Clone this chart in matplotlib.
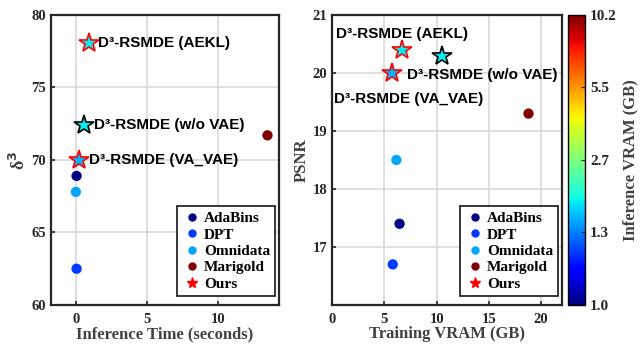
import matplotlib
matplotlib.use("Agg")
import matplotlib.pyplot as plt
import numpy as np
from matplotlib.lines import Line2D
from matplotlib import cm, colors

# ---- data ----
methods = ["AdaBins", "DPT", "Omnidata", "Marigold"]
inf_time = [0.05, 0.05, 0.0, 13.5]
delta3 = [68.9, 62.5, 67.8, 71.7]
train_vram = [6.45, 5.8, 6.15, 18.8]
psnr = [17.4, 16.7, 18.5, 19.3]
inf_vram = [1.0, 1.22, 1.5, 10.2]

ours = ["D³-RSMDE (AEKL)", "D³-RSMDE (w/o VAE)", "D³-RSMDE (VA_VAE)"]
ours_time = [0.9, 0.6, 0.25]
ours_delta3 = [78.1, 72.4, 70.0]
ours_train_vram = [6.7, 10.5, 5.7]
ours_psnr = [20.4, 20.3, 20.0]
ours_inf_vram = [1.9, 1.9, 1.6]
ours_edge = ["red", "black", "red"]

cbar_ticks = [1.0, 1.3, 2.7, 5.5, 10.2]
cbar_pos = [0.0, 0.25, 0.5, 0.75, 1.0]

serif = "Liberation Serif"
sans = "Liberation Sans"
plt.rcParams["font.family"] = serif
plt.rcParams["font.weight"] = "bold"

cmap = matplotlib.colormaps["jet"]
def vcol(v):
    return cmap(np.interp(v, cbar_ticks, cbar_pos))

fig = plt.figure(figsize=(6.4, 3.5), dpi=100)
ax1 = fig.add_axes([0.0797, 0.1286, 0.356, 0.8286])
ax2 = fig.add_axes([0.519, 0.1286, 0.359, 0.8286])
cax = fig.add_axes([0.8875, 0.1286, 0.0266, 0.8286])

def style(ax):
    ax.grid(True, color="#dcdcdc", linewidth=1.3)
    ax.set_axisbelow(True)
    for s in ax.spines.values():
        s.set_linewidth(1.6)
        s.set_color("#262626")
    ax.tick_params(direction="in", length=3, width=1.2, labelsize=10.5, colors="#262626")
    ax.tick_params(axis="x", pad=6)
    for lab in ax.get_xticklabels() + ax.get_yticklabels():
        lab.set_fontweight("bold")

# ---- left ----
for x, y, v in zip(inf_time, delta3, inf_vram):
    ax1.scatter(x, y, s=55, color=vcol(v), zorder=3, edgecolors="none")
for x, y, v, e in zip(ours_time, ours_delta3, ours_inf_vram, ours_edge):
    ax1.plot(x, y, marker="*", ms=15, color=vcol(v), mec=e, mew=1.2, zorder=4, ls="none")
for i, t in enumerate(ours):
    ax1.annotate(t, (ours_time[i], ours_delta3[i]), xytext=(7, 0), textcoords="offset points",
                 va="center", ha="left", fontsize=11, fontweight="bold", family=sans)
ax1.set_xlim(-1.75, 14.3)
ax1.set_ylim(60, 80)
ax1.set_xticks([0, 5, 10])
ax1.set_yticks([60, 65, 70, 75, 80])
ax1.set_xlabel("Inference Time (seconds)", fontsize=12, fontweight="bold", color="#404040", labelpad=0)
ax1.set_ylabel("δ$^\\mathbf{3}$", fontsize=13, fontweight="bold", color="#404040", labelpad=2)
style(ax1)

# ---- right ----
for x, y, v in zip(train_vram, psnr, inf_vram):
    ax2.scatter(x, y, s=55, color=vcol(v), zorder=3, edgecolors="none")
for x, y, v, e in zip(ours_train_vram, ours_psnr, ours_inf_vram, ours_edge):
    ax2.plot(x, y, marker="*", ms=15, color=vcol(v), mec=e, mew=1.2, zorder=4, ls="none")
ax2.text(6.7, 20.67, ours[0], ha="center", va="center", fontsize=11, fontweight="bold", family=sans)
ax2.text(7.2, 19.97, ours[1], ha="left", va="center", fontsize=11, fontweight="bold", family=sans)
ax2.text(0.2, 19.56, ours[2], ha="left", va="center", fontsize=11, fontweight="bold", family=sans)
ax2.set_xlim(0, 22)
ax2.set_ylim(16, 21)
ax2.set_xticks([0, 5, 10, 15, 20])
ax2.set_yticks([17, 18, 19, 20, 21])
ax2.set_xlabel("Training VRAM (GB)", fontsize=12, fontweight="bold", color="#404040", labelpad=0)
ax2.set_ylabel("PSNR", fontsize=12, fontweight="bold", color="#404040", labelpad=2)
style(ax2)

# ---- legends ----
handles = [Line2D([], [], ls="none", marker="o", ms=5, color=vcol(v), label=m)
           for m, v in zip(methods, inf_vram)]
handles.append(Line2D([], [], ls="none", marker="*", ms=8, color="red", label="Ours"))
for ax in (ax1, ax2):
    leg = ax.legend(handles=handles, loc="lower right", bbox_to_anchor=(0.985, 0.03),
                    prop={"family": serif, "weight": "bold", "size": 11},
                    fancybox=False, framealpha=1, edgecolor="#262626",
                    labelspacing=0.18, handletextpad=0.2, handlelength=1.2,
                    borderpad=0.35, borderaxespad=0.0)
    leg.get_frame().set_linewidth(1.3)

# ---- colorbar ----
sm = cm.ScalarMappable(norm=colors.Normalize(0, 1), cmap=cmap)
cb = fig.colorbar(sm, cax=cax, ticks=cbar_pos)
cb.set_ticklabels([f"{t:.1f}" for t in cbar_ticks])
cb.outline.set_linewidth(1.0)
cax.tick_params(labelsize=11, length=3, direction="in", colors="#262626")
for lab in cax.get_yticklabels():
    lab.set_fontweight("bold")
cb.set_label("Inference VRAM (GB)", fontsize=12, fontweight="bold", color="#404040", labelpad=4)

fig.savefig("out.png", dpi=100)
